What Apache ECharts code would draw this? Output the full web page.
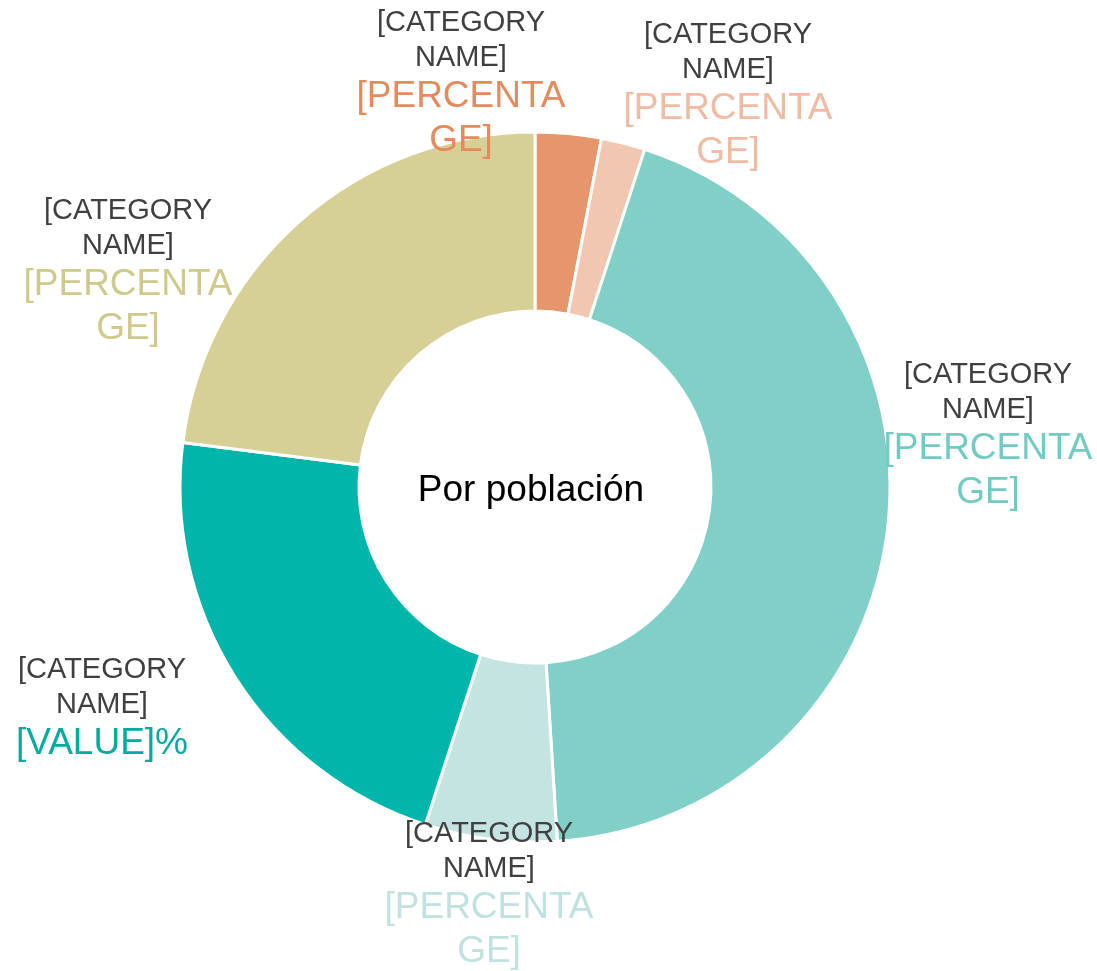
<!DOCTYPE html>
<html>
<head>
<meta charset="utf-8">
<title>Por población</title>
<script src="https://cdn.jsdelivr.net/npm/echarts@6/dist/echarts.min.js"></script>
<style>
    html, body { margin: 0; padding: 0; background: #fff; }
    #main { width: 1097px; height: 971px; }
</style>
</head>
<body>
<div id="main"></div>
<script>
var categories = ['[CATEGORY NAME]', '[CATEGORY NAME]', '[CATEGORY NAME]', '[CATEGORY NAME]', '[CATEGORY NAME]', '[CATEGORY NAME]'];
var values = [3, 2, 44, 6, 22, 23];
var valueLabels = ['[PERCENTAGE]', '[PERCENTAGE]', '[PERCENTAGE]', '[PERCENTAGE]', '[VALUE]%', '[PERCENTAGE]'];
var centerText = 'Por población';

var colors = ['#E7956A', '#F2C6B0', '#80D0C8', '#C4E4E2', '#00B5A9', '#D6D097'];
var textColors = ['#E58A5C', '#F0BBA2', '#72CBC2', '#BFE2E0', '#00ABA0', '#CFC98B'];
// label block centres (Excel "best fit" placement)
var labelPos = [[461, 84], [728, 96], [988, 436], [489, 895], [102, 709], [128, 272]];

var font = "'Liberation Sans', Arial, sans-serif";

window.onload = function () {
    mainCanvas();
};

// break on spaces, and hard-break words longer than n chars
function wrap(s, n) {
    var out = [];
    s.split(' ').forEach(function (w) {
        while (w.length > n) {
            out.push(w.slice(0, n));
            w = w.slice(n);
        }
        out.push(w);
    });
    return out.join('\n');
}

function mainCanvas() {
    var myChart = echarts.init(document.getElementById('main'));

    var rich = {
        c: { fontFamily: font, fontSize: 29, lineHeight: 35, color: '#404040', align: 'center' }
    };
    var data = [];
    for (var i = 0; i < values.length; i++) {
        rich['p' + i] = { fontFamily: font, fontSize: 37, lineHeight: 44, color: textColors[i], align: 'center' };
        data.push({ name: categories[i], value: values[i], itemStyle: { color: colors[i] } });
    }

    option = {
        animation: false,
        graphic: [{
            type: 'text',
            x: 531,
            y: 491,
            style: {
                text: centerText,
                fontFamily: font,
                fontSize: 37,
                fill: '#000',
                align: 'center',
                verticalAlign: 'middle'
            }
        }],
        series: [{
            type: 'pie',
            center: [535, 487],
            radius: [176, 355],
            startAngle: 90,
            clockwise: true,
            avoidLabelOverlap: false,
            itemStyle: {
                borderColor: '#fff',
                borderWidth: 3
            },
            emphasis: { disabled: true },
            label: {
                show: true,
                position: 'outside',
                fontFamily: font,
                rich: rich,
                formatter: function (p) {
                    return '{c|' + wrap(p.name, 9) + '}\n{p' + p.dataIndex + '|' + wrap(valueLabels[p.dataIndex], 9) + '}';
                }
            },
            labelLine: { show: false },
            labelLayout: function (p) {
                var pos = labelPos[p.dataIndex];
                return { x: pos[0], y: pos[1], align: 'center', verticalAlign: 'middle' };
            },
            data: data
        }]
    };

    myChart.setOption(option);
}
</script>
</body>
</html>
